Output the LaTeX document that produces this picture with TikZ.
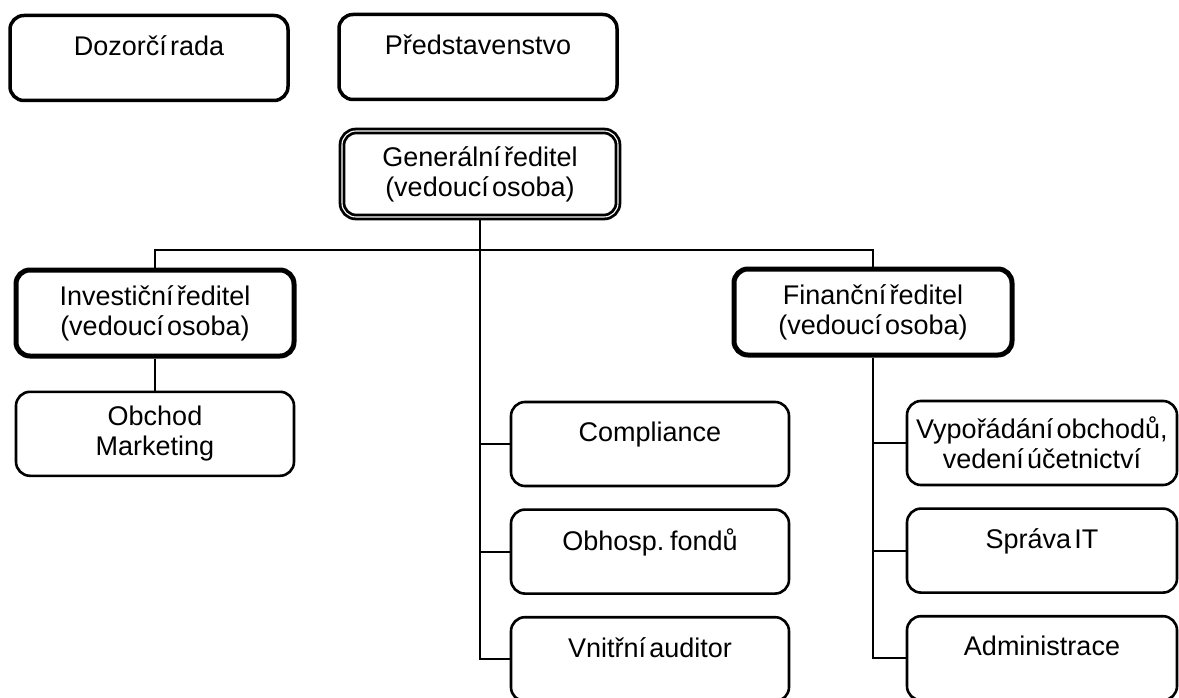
\documentclass[tikz,border=0pt]{standalone}
\usepackage{fontspec}
\setmainfont[WordSpace=0.45]{Liberation Sans}
\usetikzlibrary{positioning}

\newcommand{\oneline}[1]{#1\\[-6pt]\mbox{}}

\begin{document}
\begin{tikzpicture}[x=1pt,y=-1pt,node distance=21pt,
  every node/.style={font=\fontsize{27}{30}\selectfont,align=center,rounded corners=14pt,inner sep=0pt},
  board node/.style={draw,line width=3.5pt,minimum width=278pt,minimum height=85pt},
  gen node/.style={draw,double,line width=2.8pt,double distance=1.1pt,minimum width=276pt,minimum height=86pt},
  head node/.style={draw,line width=5pt,minimum width=278pt,minimum height=86pt},
  unit node/.style={draw,line width=2.6pt,minimum width=278pt,minimum height=84pt},
  link/.style={line width=2pt}]

  \useasboundingbox (0,0) rectangle (1179,698);

  % vedeni
  \node[board node] (dozor) at (149,58) {\oneline{Dozorčí rada}};
  \node[board node] (pred) at (478,57) {\oneline{Představenstvo}};
  \node[gen node] (gen) at (480,174) {Generální ředitel\\(vedoucí osoba)};

  % reditele
  \node[head node] (inv) at (155,313) {Investiční ředitel\\(vedoucí osoba)};
  \node[unit node, below=32pt of inv] (obch) {Obchod\\Marketing};
  \node[head node] (fin) at (873,312) {Finanční ředitel\\(vedoucí osoba)};

  % utvary
  \node[unit node] (comp) at (650,444) {\oneline{Compliance}};
  \node[unit node, below=of comp] (obh) {\oneline{Obhosp. fondů}};
  \node[unit node, below=of obh] (vni) {\oneline{Vnitřní auditor}};
  \node[unit node, minimum width=270pt] (vyp) at (1042,443) {Vypořádání obchodů,\\vedení účetnictví};
  \node[unit node, minimum width=270pt, below=of vyp] (it) {\oneline{Správa IT}};
  \node[unit node, minimum width=270pt, below=of it] (adm) {\oneline{Administrace}};

  \coordinate (bar) at (480,250);
  \draw[link] (inv.north) |- (bar) -| (fin.north);
  \draw[link] (gen.south) |- (vni.west);
  \draw[link] (gen.south |- comp.west) -- (comp.west);
  \draw[link] (gen.south |- obh.west) -- (obh.west);
  \draw[link] (inv.south) -- (inv.south |- obch.north);
  \draw[link] (fin.south) |- (adm.west);
  \draw[link] (fin.south |- vyp.west) -- (vyp.west);
  \draw[link] (fin.south |- it.west) -- (it.west);
\end{tikzpicture}
\end{document}
